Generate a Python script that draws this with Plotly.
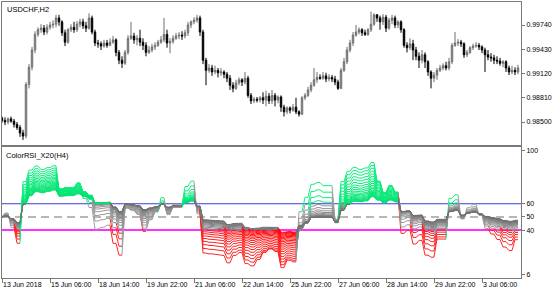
import plotly.graph_objects as go

# ---------------- data ----------------
tick_bars = [0, 16, 32, 48, 64, 80, 96, 112, 128, 144, 160]
tick_labels = ["13 Jun 2018", "15 Jun 06:00", "18 Jun 14:00", "19 Jun 22:00", "21 Jun 06:00",
               "22 Jun 14:00", "25 Jun 22:00", "27 Jun 06:00", "28 Jun 14:00", "29 Jun 22:00",
               "3 Jul 06:00"]

opens = [0.9855,0.9852,0.9850,0.9854,0.9851,0.9847,0.9843,0.9836,0.9832,0.9898,
         0.9920,0.9942,0.9962,0.9968,0.9970,0.9965,0.9971,0.9974,0.9975,0.9983,
         0.9978,0.9964,0.9952,0.9968,0.9971,0.9968,0.9975,0.9978,0.9973,0.9970,
         0.9983,0.9965,0.9951,0.9950,0.9947,0.9951,0.9948,0.9952,0.9955,0.9939,
         0.9929,0.9925,0.9939,0.9957,0.9960,0.9955,0.9957,0.9952,0.9948,0.9939,
         0.9942,0.9946,0.9948,0.9952,0.9955,0.9962,0.9951,0.9953,0.9957,0.9960,
         0.9961,0.9960,0.9964,0.9974,0.9978,0.9980,0.9983,0.9965,0.9929,0.9916,
         0.9919,0.9914,0.9916,0.9913,0.9914,0.9911,0.9906,0.9897,0.9893,0.9900,
         0.9904,0.9901,0.9906,0.9884,0.9877,0.9879,0.9878,0.9881,0.9878,0.9883,
         0.9877,0.9884,0.9878,0.9882,0.9869,0.9863,0.9868,0.9865,0.9869,0.9863,
         0.9860,0.9881,0.9884,0.9891,0.9897,0.9904,0.9907,0.9906,0.9909,0.9905,
         0.9907,0.9905,0.9901,0.9893,0.9916,0.9927,0.9942,0.9951,0.9961,0.9965,
         0.9968,0.9964,0.9962,0.9968,0.9975,0.9987,0.9983,0.9978,0.9984,0.9970,
         0.9980,0.9983,0.9974,0.9978,0.9968,0.9948,0.9945,0.9950,0.9942,0.9934,
         0.9929,0.9936,0.9927,0.9914,0.9906,0.9910,0.9916,0.9919,0.9922,0.9919,
         0.9927,0.9948,0.9951,0.9952,0.9950,0.9936,0.9939,0.9945,0.9947,0.9948,
         0.9946,0.9942,0.9936,0.9933,0.9932,0.9929,0.9928,0.9925,0.9927,0.9919,
         0.9914,0.9916,0.9914]
highs = [0.9857,0.9856,0.9856,0.9857,0.9854,0.9850,0.9846,0.9840,0.9901,0.9924,
         0.9946,0.9966,0.9971,0.9975,0.9974,0.9975,0.9978,0.9980,0.9987,0.9987,
         0.9980,0.9968,0.9970,0.9975,0.9978,0.9979,0.9982,0.9982,0.9978,0.9989,
         0.9986,0.9968,0.9955,0.9953,0.9955,0.9955,0.9957,0.9960,0.9957,0.9942,
         0.9934,0.9942,0.9961,0.9978,0.9964,0.9961,0.9968,0.9957,0.9952,0.9947,
         0.9950,0.9952,0.9955,0.9960,0.9983,0.9968,0.9957,0.9961,0.9964,0.9965,
         0.9966,0.9968,0.9978,0.9980,0.9984,0.9987,0.9986,0.9968,0.9932,0.9924,
         0.9923,0.9922,0.9919,0.9919,0.9916,0.9914,0.9910,0.9901,0.9904,0.9907,
         0.9906,0.9914,0.9909,0.9887,0.9882,0.9882,0.9883,0.9888,0.9890,0.9887,
         0.9891,0.9887,0.9884,0.9884,0.9872,0.9870,0.9870,0.9873,0.9881,0.9865,
         0.9883,0.9887,0.9895,0.9901,0.9919,0.9914,0.9911,0.9914,0.9913,0.9911,
         0.9910,0.9909,0.9904,0.9919,0.9932,0.9946,0.9955,0.9965,0.9974,0.9971,
         0.9970,0.9968,0.9970,0.9991,0.9989,0.9988,0.9986,0.9988,0.9987,0.9983,
         0.9987,0.9986,0.9980,0.9980,0.9970,0.9952,0.9957,0.9955,0.9946,0.9939,
         0.9942,0.9939,0.9929,0.9916,0.9914,0.9919,0.9923,0.9925,0.9927,0.9932,
         0.9951,0.9965,0.9956,0.9955,0.9952,0.9942,0.9947,0.9950,0.9952,0.9951,
         0.9948,0.9945,0.9942,0.9938,0.9936,0.9934,0.9932,0.9929,0.9929,0.9922,
         0.9922,0.9920,0.9923]
lows = [0.9849,0.9846,0.9847,0.9849,0.9843,0.9840,0.9831,0.9827,0.9829,0.9893,
        0.9916,0.9938,0.9959,0.9964,0.9961,0.9962,0.9968,0.9970,0.9971,0.9973,
        0.9960,0.9947,0.9950,0.9965,0.9964,0.9965,0.9971,0.9969,0.9965,0.9968,
        0.9962,0.9947,0.9945,0.9942,0.9945,0.9945,0.9947,0.9950,0.9934,0.9924,
        0.9919,0.9923,0.9936,0.9955,0.9950,0.9948,0.9947,0.9942,0.9934,0.9937,
        0.9939,0.9942,0.9946,0.9950,0.9952,0.9945,0.9938,0.9950,0.9955,0.9956,
        0.9955,0.9957,0.9960,0.9970,0.9975,0.9977,0.9960,0.9924,0.9897,0.9913,
        0.9909,0.9911,0.9907,0.9909,0.9906,0.9901,0.9891,0.9888,0.9891,0.9897,
        0.9896,0.9898,0.9881,0.9873,0.9874,0.9875,0.9875,0.9873,0.9870,0.9873,
        0.9873,0.9870,0.9874,0.9863,0.9857,0.9860,0.9861,0.9863,0.9860,0.9857,
        0.9859,0.9878,0.9882,0.9888,0.9895,0.9900,0.9904,0.9904,0.9901,0.9902,
        0.9901,0.9897,0.9891,0.9892,0.9914,0.9924,0.9939,0.9947,0.9959,0.9962,
        0.9960,0.9960,0.9960,0.9965,0.9973,0.9978,0.9968,0.9974,0.9965,0.9968,
        0.9975,0.9970,0.9970,0.9964,0.9945,0.9939,0.9942,0.9929,0.9929,0.9919,
        0.9925,0.9919,0.9909,0.9893,0.9901,0.9904,0.9914,0.9916,0.9916,0.9916,
        0.9924,0.9946,0.9947,0.9946,0.9932,0.9933,0.9937,0.9942,0.9945,0.9942,
        0.9938,0.9914,0.9929,0.9927,0.9924,0.9924,0.9922,0.9920,0.9914,0.9910,
        0.9911,0.9910,0.9911]
closes = [0.9852,0.9850,0.9854,0.9851,0.9847,0.9843,0.9836,0.9832,0.9898,0.9920,
          0.9942,0.9962,0.9968,0.9970,0.9965,0.9971,0.9974,0.9975,0.9983,0.9978,
          0.9964,0.9952,0.9968,0.9971,0.9968,0.9975,0.9978,0.9973,0.9970,0.9983,
          0.9965,0.9951,0.9950,0.9947,0.9951,0.9948,0.9952,0.9955,0.9939,0.9929,
          0.9925,0.9939,0.9957,0.9960,0.9955,0.9957,0.9952,0.9948,0.9939,0.9942,
          0.9946,0.9948,0.9952,0.9955,0.9962,0.9951,0.9953,0.9957,0.9960,0.9961,
          0.9960,0.9964,0.9974,0.9978,0.9980,0.9983,0.9965,0.9929,0.9916,0.9919,
          0.9914,0.9916,0.9913,0.9914,0.9911,0.9906,0.9897,0.9893,0.9900,0.9904,
          0.9901,0.9906,0.9884,0.9877,0.9879,0.9878,0.9881,0.9878,0.9883,0.9877,
          0.9884,0.9878,0.9882,0.9869,0.9863,0.9868,0.9865,0.9869,0.9863,0.9860,
          0.9881,0.9884,0.9891,0.9897,0.9904,0.9907,0.9906,0.9909,0.9905,0.9907,
          0.9905,0.9901,0.9893,0.9916,0.9927,0.9942,0.9951,0.9961,0.9965,0.9968,
          0.9964,0.9962,0.9968,0.9975,0.9987,0.9983,0.9978,0.9984,0.9970,0.9980,
          0.9983,0.9974,0.9978,0.9968,0.9948,0.9945,0.9950,0.9942,0.9934,0.9929,
          0.9936,0.9927,0.9914,0.9906,0.9910,0.9916,0.9919,0.9922,0.9919,0.9927,
          0.9948,0.9951,0.9952,0.9950,0.9936,0.9939,0.9945,0.9947,0.9948,0.9946,
          0.9942,0.9936,0.9933,0.9932,0.9929,0.9928,0.9925,0.9927,0.9919,0.9914,
          0.9916,0.9914,0.9919]

price_ticks = [0.98500, 0.98810, 0.99120, 0.99430, 0.99740]
rsi_ticks = [6, 40, 50, 60, 100]
level_up, level_mid, level_dn = 60, 50, 40

# ColorRSI_X20 settings (20 RSIs on H4 closes)
RSI_START, RSI_STEP, RSI_COUNT = 5, 1, 20
RSI_SEED = 0.0004

# ---------------- computation ----------------
n = len(closes)
xs = list(range(n))
h4_close = [closes[i] for i in range(0, n, 2)]


def wilder_rsi(vals, period, seed):
    ag = al = seed
    out = [50.0]
    for j in range(1, len(vals)):
        d = vals[j] - vals[j - 1]
        ag = (ag * (period - 1) + max(d, 0.0)) / period
        al = (al * (period - 1) + max(-d, 0.0)) / period
        out.append(100.0 * ag / (ag + al))
    return out


def lerp_hex(c1, c2, t):
    a = [int(c1[i:i + 2], 16) for i in (1, 3, 5)]
    b = [int(c2[i:i + 2], 16) for i in (1, 3, 5)]
    return "rgb(%d,%d,%d)" % tuple(round(a[k] + (b[k] - a[k]) * t) for k in range(3))


fig = go.Figure()

fig.add_trace(go.Candlestick(
    x=xs, open=opens, high=highs, low=lows, close=closes,
    increasing=dict(line=dict(color="#6e6e6e", width=1), fillcolor="#a8a8a8"),
    decreasing=dict(line=dict(color="#000000", width=1), fillcolor="#000000"),
    whiskerwidth=0, showlegend=False, hoverinfo="skip",
    xaxis="x", yaxis="y"))

for k in range(RSI_COUNT):
    period = RSI_START + RSI_STEP * k
    r4 = wilder_rsi(h4_close, period, RSI_SEED)
    vals = [r4[(i + 1) // 2] for i in range(n)]
    t = k / (RSI_COUNT - 1)
    cols = {
        "up": lerp_hex("#10f080", "#00e070", t),
        "mid": lerp_hex("#a0a0a0", "#707070", t),
        "dn": lerp_hex("#ff2828", "#ff0000", t),
    }
    segs = {"up": ([], []), "mid": ([], []), "dn": ([], [])}
    last = None
    for i in range(1, n):
        v = vals[i]
        c = "up" if v > level_up else ("dn" if v < level_dn else "mid")
        sx, sy = segs[c]
        if last == c:
            sx.append(i)
            sy.append(v)
        else:
            if sx:
                sx.append(None)
                sy.append(None)
            sx.extend([i - 1, i])
            sy.extend([vals[i - 1], v])
        last = c
    for c in ("mid", "up", "dn"):
        sx, sy = segs[c]
        if sx:
            fig.add_trace(go.Scatter(x=sx, y=sy, mode="lines",
                                     line=dict(color=cols[c], width=1),
                                     showlegend=False, hoverinfo="skip",
                                     xaxis="x2", yaxis="y2"))

W, H = 560, 294
x0, x1 = 2 / W, 521 / W
top_dom = [1 - 145 / H, 1 - 2 / H]
bot_dom = [1 - 278 / H, 1 - 147 / H]
font = dict(family="Liberation Sans, Arial, sans-serif", size=7, color="#000000")
frame = "#7a7a7a"

fig.update_layout(
    width=W, height=H, margin=dict(l=0, r=0, t=0, b=0, autoexpand=False),
    paper_bgcolor="white", plot_bgcolor="white", font=font,
    xaxis=dict(domain=[x0, x1], range=[0, 173], showticklabels=False, ticks="",
               showgrid=False, zeroline=False, showline=True, mirror=True,
               linecolor=frame, linewidth=1, rangeslider=dict(visible=False),
               anchor="y", automargin=False),
    yaxis=dict(domain=top_dom, range=[0.98206, 1.00034], side="right",
               tickvals=price_ticks, ticktext=["%.5f" % v for v in price_ticks],
               ticks="outside", ticklen=3, tickcolor=frame, showgrid=False,
               zeroline=False, showline=True, mirror=True, linecolor=frame,
               linewidth=1, anchor="x", tickfont=font, automargin=False),
    xaxis2=dict(domain=[x0, x1], range=[0, 173], tickvals=tick_bars,
                ticktext=tick_labels, ticks="outside", ticklen=4, tickcolor=frame,
                ticklabelposition="outside right", tickangle=0, showgrid=False,
                zeroline=False, showline=True, mirror=True, linecolor=frame,
                linewidth=1, anchor="y2", tickfont=font, automargin=False),
    yaxis2=dict(domain=bot_dom, range=[3.7, 103], side="right", tickvals=rsi_ticks,
                ticktext=[str(v) for v in rsi_ticks], ticks="outside", ticklen=3,
                tickcolor=frame, showgrid=False, zeroline=False, showline=True,
                mirror=True, linecolor=frame, linewidth=1, anchor="x2",
                tickfont=font, automargin=False),
)

fig.add_shape(type="line", xref="x2 domain", yref="y2", x0=0, x1=1, y0=level_up, y1=level_up,
              line=dict(color="#3a3ad8", width=1.2), layer="below")
fig.add_shape(type="line", xref="x2 domain", yref="y2", x0=0, x1=1, y0=level_mid, y1=level_mid,
              line=dict(color="#a0a0a0", width=1.5, dash="8px,5px"), layer="below")
fig.add_shape(type="line", xref="x2 domain", yref="y2", x0=0, x1=1, y0=level_dn, y1=level_dn,
              line=dict(color="#ff30ff", width=2), layer="below")

fig.add_annotation(text="USDCHF,H2", xref="paper", yref="paper", x=5 / W, y=1 - 3 / H,
                   xanchor="left", yanchor="top", showarrow=False,
                   font=dict(family="Liberation Sans, Arial, sans-serif", size=7.5, color="#000"))
fig.add_annotation(text="ColorRSI_X20(H4)", xref="paper", yref="paper", x=4 / W, y=1 - 149 / H,
                   xanchor="left", yanchor="top", showarrow=False,
                   font=dict(family="Liberation Sans, Arial, sans-serif", size=7.5, color="#000"))

fig.write_html("out.html")
